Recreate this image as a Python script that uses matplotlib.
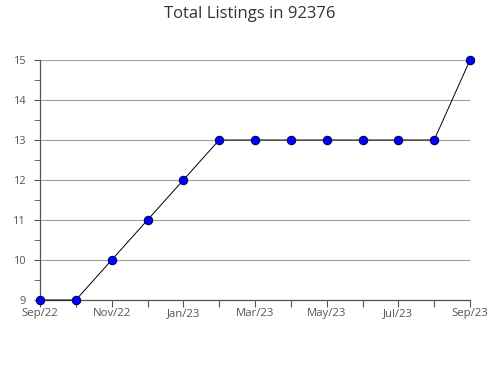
import matplotlib
matplotlib.use("Agg")
import matplotlib.pyplot as plt
from matplotlib.ticker import MultipleLocator

months = ["Sep/22", "Oct/22", "Nov/22", "Dec/22", "Jan/23", "Feb/23", "Mar/23",
          "Apr/23", "May/23", "Jun/23", "Jul/23", "Aug/23", "Sep/23"]
listings = [9, 9, 10, 11, 12, 13, 13, 13, 13, 13, 13, 13, 15]
title = "Total Listings in 92376"

plt.rcParams['font.family'] = ['Open Sans', 'DejaVu Sans']

fig = plt.figure(figsize=(4.9, 3.8), dpi=100)
ax = fig.add_axes([40/490, 80/380, 430/490, 240/380])

x = list(range(len(months)))
ax.plot(x, listings, color='black', lw=0.7, zorder=3,
        marker='o', markersize=6, markerfacecolor='#0000ff',
        markeredgecolor='#000066', markeredgewidth=0.8, clip_on=False)

ax.set_xlim(0, len(months) - 1)
ax.set_ylim(9, 15)
ax.set_xticks(x)
ax.set_xticklabels([m if i % 2 == 0 else "" for i, m in enumerate(months)])
ax.yaxis.set_major_locator(MultipleLocator(1))
ax.yaxis.set_minor_locator(MultipleLocator(0.5))

ax.grid(axis='y', which='major', color='#a0a0a0', lw=0.8)
ax.set_axisbelow(True)
for s in ['top', 'right']:
    ax.spines[s].set_visible(False)
for s in ['left', 'bottom']:
    ax.spines[s].set_color('#555555')
    ax.spines[s].set_linewidth(0.9)

ax.tick_params(axis='x', which='major', length=5, color='#555555',
               labelsize=8.2, labelcolor='#555555', pad=0.5)
ax.tick_params(axis='y', which='both', length=4, color='#555555',
               labelsize=7.8, labelcolor='#555555', pad=6)
ax.tick_params(axis='y', which='minor', length=4)

fig.suptitle(title, x=250/490, y=1 - 14/380, va='center', fontsize=12,
             color='#333333')

fig.savefig("out.png", dpi=100)
